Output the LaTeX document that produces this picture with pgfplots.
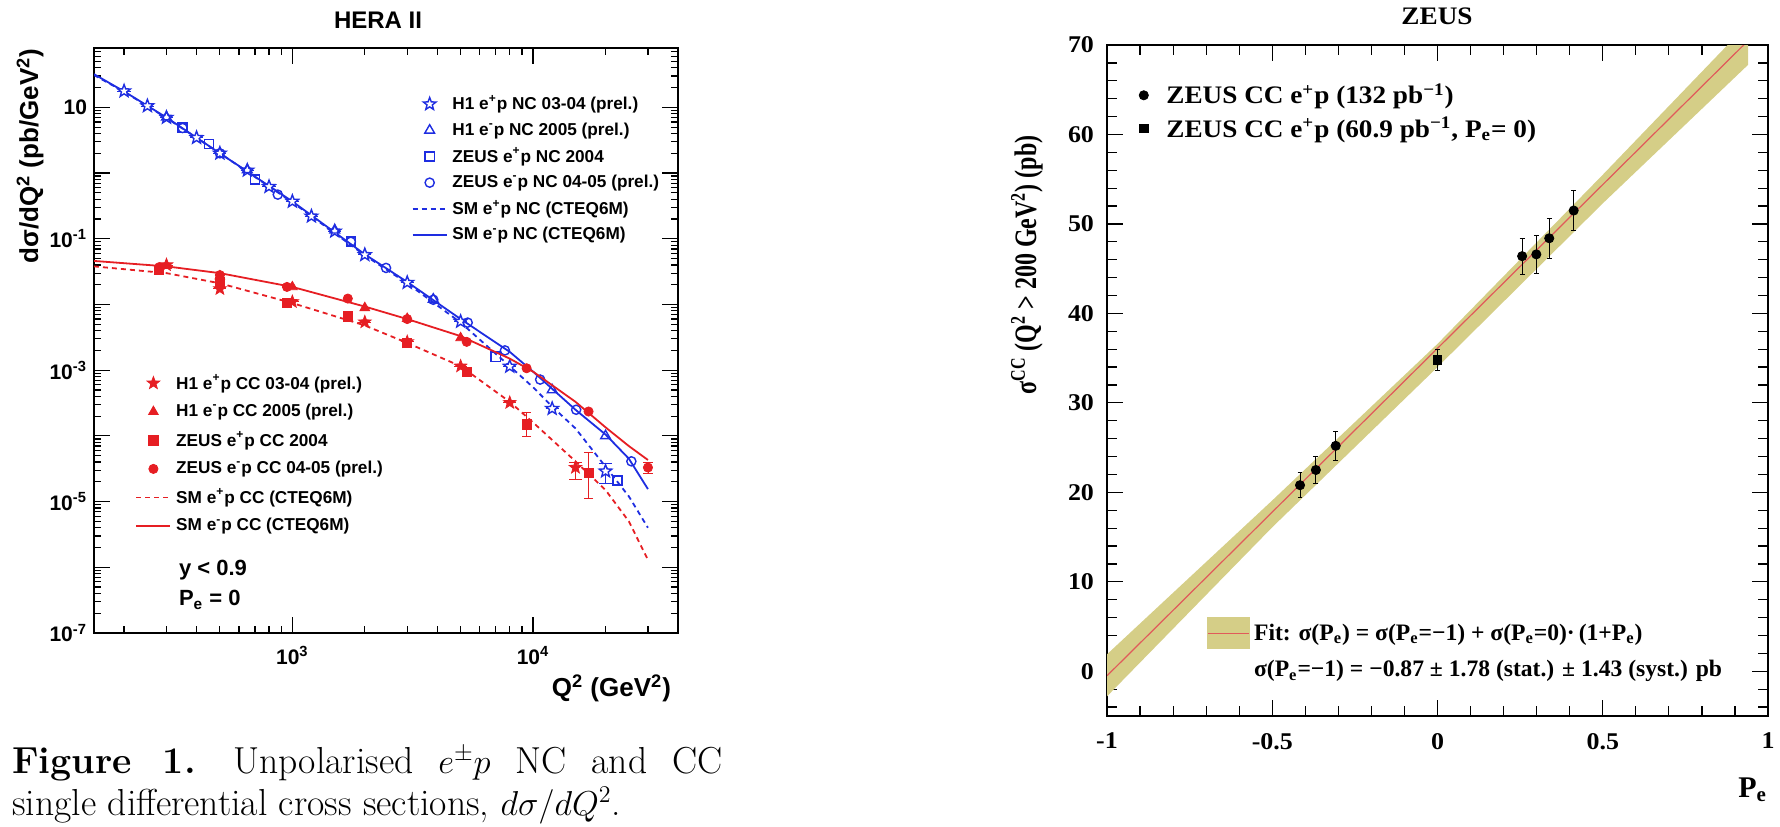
\documentclass[border=0pt]{standalone}
\usepackage{pgfplots}
\pgfplotsset{compat=1.18}
\usepackage{graphicx}
\usepackage{fontspec}
\newfontfamily\hs{Liberation Sans}
\newfontfamily\zt{Liberation Serif}[FakeStretch=1.08]
\newfontfamily\ztn{Liberation Serif}
\definecolor{hblue}{RGB}{30,45,225}
\definecolor{hred}{RGB}{230,30,35}
\definecolor{band}{RGB}{213,206,135}
\definecolor{fitred}{RGB}{225,90,90}

\pgfdeclareplotmark{fstar}{%
 \pgfpathmoveto{\pgfpointpolar{90}{\pgfplotmarksize}}%
 \pgfpathlineto{\pgfpointpolar{126}{0.42\pgfplotmarksize}}%
 \pgfpathlineto{\pgfpointpolar{162}{\pgfplotmarksize}}%
 \pgfpathlineto{\pgfpointpolar{198}{0.42\pgfplotmarksize}}%
 \pgfpathlineto{\pgfpointpolar{234}{\pgfplotmarksize}}%
 \pgfpathlineto{\pgfpointpolar{270}{0.42\pgfplotmarksize}}%
 \pgfpathlineto{\pgfpointpolar{306}{\pgfplotmarksize}}%
 \pgfpathlineto{\pgfpointpolar{342}{0.42\pgfplotmarksize}}%
 \pgfpathlineto{\pgfpointpolar{18}{\pgfplotmarksize}}%
 \pgfpathlineto{\pgfpointpolar{54}{0.42\pgfplotmarksize}}%
 \pgfpathclose
 \pgfusepathqfillstroke}

\begin{document}
\begin{tikzpicture}
\useasboundingbox (0,0) rectangle (890pt,-413pt);

% ---------------- LEFT: NC ----------------
\begin{axis}[at={(47pt,-316.5pt)}, anchor=south west,
 width=292pt, height=292.5pt, scale only axis,
 xmode=log, ymode=log, xmin=150, xmax=40000, ymin=1e-7, ymax=80,
 xtick={100,1000,10000,100000},
 xticklabels={,10\textsuperscript{3},10\textsuperscript{4},},
 minor xtick={200,300,400,500,600,700,800,900,2000,3000,4000,5000,6000,7000,8000,9000,20000,30000,40000},
 ytick={1e-7,1e-6,1e-5,1e-4,1e-3,1e-2,1e-1,1,10,100},
 yticklabels={10\textsuperscript{-7},,10\textsuperscript{-5},,10\textsuperscript{-3},,10\textsuperscript{-1},,10,},
 minor ytick={2e-7,3e-7,4e-7,5e-7,6e-7,7e-7,8e-7,9e-7,
  2e-6,3e-6,4e-6,5e-6,6e-6,7e-6,8e-6,9e-6,
  2e-5,3e-5,4e-5,5e-5,6e-5,7e-5,8e-5,9e-5,
  2e-4,3e-4,4e-4,5e-4,6e-4,7e-4,8e-4,9e-4,
  2e-3,3e-3,4e-3,5e-3,6e-3,7e-3,8e-3,9e-3,
  2e-2,3e-2,4e-2,5e-2,6e-2,7e-2,8e-2,9e-2,
  0.2,0.3,0.4,0.5,0.6,0.7,0.8,0.9,2,3,4,5,6,7,8,9,20,30,40,50,60,70},
 ticklabel style={font=\hs\bfseries\fontsize{10.5}{12}\selectfont},
 xticklabel style={yshift=-3pt},
 tick align=inside, major tick length=8pt, minor tick length=3.5pt,
 axis line style={line width=0.8pt}, every tick/.style={black, line width=0.6pt},
 legend style={at={(0.533,0.935)}, anchor=north west, draw=none, fill=none,
  font=\hs\bfseries\fontsize{8.6}{10}\selectfont, row sep=0pt, nodes={inner sep=2.4pt}},
 legend cell align=left,
]
% SM curves
\addplot[hblue, line width=0.9pt, dash pattern=on 2.5pt off 2pt, forget plot] coordinates {
 (150,31) (200,17.3) (300,6.9) (500,2.0) (1000,0.36) (2000,0.056) (3000,0.021)
 (5000,0.0053) (8000,0.00115) (10000,0.00055) (12000,0.00028) (15000,0.00013)
 (20000,3.4e-5) (25000,1.2e-5) (30000,4e-6)};
\addplot[hblue, line width=0.9pt, forget plot] coordinates {
 (150,32) (200,17.5) (300,7.0) (500,2.0) (1000,0.37) (2000,0.058) (3000,0.022)
 (5000,0.0060) (8000,0.0019) (10000,0.00095) (15000,0.00025) (20000,0.000105)
 (25000,4.5e-5) (30000,1.55e-5)};
% data
\addplot[only marks, mark=fstar, mark size=3.3pt, mark options={fill=white, draw=hblue, line width=0.7pt},
 hblue, error bars/.cd, y dir=both, y explicit] table[x=x, y=y, y error plus=ep, y error minus=em] {
x y ep em
200 17.7 0 0
250 10.5 0 0
300 7.0 0 0
400 3.45 0 0
500 2.0 0 0
650 1.1 0 0
800 0.62 0 0
1000 0.37 0 0
1200 0.22 0 0
1500 0.13 0 0
2000 0.057 0 0
3000 0.0215 0 0
5000 0.0055 0 0
8000 0.00114 0 0
12000 0.00026 0 0
20000 0.000029 0.000009 0.00001
};
\addlegendentry{H1 e\textsuperscript{+}p NC 03-04 (prel.)}
\addplot[only marks, mark=triangle, mark size=2.8pt, mark options={draw=hblue, line width=0.7pt}, hblue] coordinates {
 (300,7.1) (650,1.12) (1500,0.135) (3850,0.0120) (12000,0.00050) (20000,0.00010)};
\addlegendentry{H1 e\textsuperscript{-}p NC 2005 (prel.)}
\addplot[only marks, mark=square, mark size=2.3pt, mark options={draw=hblue, line width=0.7pt}, hblue] coordinates {
 (350,4.9) (450,2.75) (700,0.80) (1750,0.091) (7000,0.0016) (22400,0.000021)};
\addlegendentry{ZEUS e\textsuperscript{+}p NC 2004}
\addplot[only marks, mark=o, mark size=2.3pt, mark options={draw=hblue, line width=0.7pt}, hblue] coordinates {
 (350,4.85) (500,2.0) (870,0.47) (1750,0.090) (2450,0.036) (3850,0.0118) (5350,0.0053)
 (7640,0.0020) (10700,0.00072) (15100,0.00025) (25600,0.000041)};
\addlegendentry{ZEUS e\textsuperscript{-}p NC 04-05 (prel.)}
\addlegendimage{hblue, line width=0.9pt, dash pattern=on 2.5pt off 2pt}
\addlegendentry{SM e\textsuperscript{+}p NC (CTEQ6M)}
\addlegendimage{hblue, line width=0.9pt}
\addlegendentry{SM e\textsuperscript{-}p NC (CTEQ6M)}
\end{axis}

% ---------------- LEFT: CC (overlay) ----------------
\begin{axis}[at={(47pt,-316.5pt)}, anchor=south west,
 width=292pt, height=292.5pt, scale only axis,
 xmode=log, ymode=log, xmin=150, xmax=40000, ymin=1e-7, ymax=80,
 hide axis,
 legend style={at={(0.06,0.458)}, anchor=north west, draw=none, fill=none,
  font=\hs\bfseries\fontsize{8.6}{10}\selectfont, row sep=1.2pt, nodes={inner sep=2.4pt}},
 legend cell align=left,
]
\addplot[hred, line width=0.9pt, dash pattern=on 2.5pt off 2pt, forget plot] coordinates {
 (150,0.038) (300,0.030) (500,0.021) (1000,0.0105) (2000,0.0048) (3000,0.0026)
 (5000,0.00115) (8000,0.00033) (10000,0.00016) (15000,4.1e-5) (20000,1.5e-5)
 (25000,5e-6) (30000,1.3e-6)};
\addplot[hred, line width=0.9pt, forget plot] coordinates {
 (150,0.046) (300,0.038) (500,0.030) (1000,0.0185) (2000,0.0093) (3000,0.0060)
 (5000,0.0033) (8000,0.0015) (10000,0.00095) (15000,0.00033) (20000,0.000135)
 (25000,7e-5) (30000,4.3e-5)};
\addplot[only marks, mark=fstar, mark size=3.3pt, mark options={fill=hred, draw=hred}, hred,
 error bars/.cd, y dir=both, y explicit] table[x=x, y=y, y error plus=ep, y error minus=em] {
x y ep em
300 0.040 0 0
500 0.0173 0 0
1000 0.0110 0 0
2000 0.0054 0 0
3000 0.0027 0 0
5000 0.00115 0 0
8000 0.00032 0 0
15000 0.000033 0.000006 0.000011
};
\addlegendentry{H1 e\textsuperscript{+}p CC 03-04 (prel.)}
\addplot[only marks, mark=triangle*, mark size=2.8pt, mark options={fill=hred, draw=hred}, hred] coordinates {
 (300,0.039) (500,0.027) (1000,0.0185) (2000,0.0089) (3000,0.0061) (5000,0.0031)};
\addlegendentry{H1 e\textsuperscript{-}p CC 2005 (prel.)}
\addplot[only marks, mark=square*, mark size=2.3pt, mark options={fill=hred, draw=hred}, hred,
 error bars/.cd, y dir=both, y explicit] table[x=x, y=y, y error plus=ep, y error minus=em] {
x y ep em
280 0.034 0 0
500 0.022 0 0
950 0.0105 0 0
1700 0.0066 0 0
3000 0.0026 0 0
5300 0.00093 0 0
9400 0.00015 0.00008 0.000052
17000 0.000027 0.00003 0.000016
};
\addlegendentry{ZEUS e\textsuperscript{+}p CC 2004}
\addplot[only marks, mark=*, mark size=2.3pt, mark options={fill=hred, draw=hred}, hred,
 error bars/.cd, y dir=both, y explicit] table[x=x, y=y, y error plus=ep, y error minus=em] {
x y ep em
280 0.037 0 0
500 0.028 0 0
950 0.0185 0 0
1700 0.0123 0 0
3000 0.0060 0 0
5300 0.0027 0 0
9400 0.00107 0 0
17000 0.000235 0 0
30000 0.000033 0.000006 0.000006
};
\addlegendentry{ZEUS e\textsuperscript{-}p CC 04-05 (prel.)}
\addlegendimage{hred, line width=0.9pt, dash pattern=on 2.5pt off 2pt}
\addlegendentry{SM e\textsuperscript{+}p CC (CTEQ6M)}
\addlegendimage{hred, line width=0.9pt}
\addlegendentry{SM e\textsuperscript{-}p CC (CTEQ6M)}
\end{axis}

% left texts
\node[font=\hs\bfseries\fontsize{12}{14}\selectfont] at (189pt,-10pt) {HERA II};
\node[rotate=90, font=\hs\bfseries\fontsize{13}{15}\selectfont] at (15pt,-78pt) {dσ/dQ\textsuperscript{2} (pb/GeV\textsuperscript{2})};
\node[anchor=east, font=\hs\bfseries\fontsize{13}{15}\selectfont] at (339pt,-344pt) {Q\textsuperscript{2} (GeV\textsuperscript{2})};
\node[anchor=west, font=\hs\bfseries\fontsize{11}{13}\selectfont] at (86pt,-285pt) {y < 0.9};
\node[anchor=west, font=\hs\bfseries\fontsize{11}{13}\selectfont] at (86pt,-300pt) {P\textsubscript{e} = 0};
% caption
\node[anchor=base west, inner sep=0pt, font=\fontsize{18.8}{20}\selectfont] at (6pt,-386.5pt)
 {\makebox[355pt][s]{\textbf{Figure 1.}\quad Unpolarised $e^{\pm}p$ NC and CC}};
\node[anchor=base west, inner sep=0pt, font=\fontsize{18.8}{20}\selectfont] at (6pt,-407.5pt)
 {single differential cross sections, $d\sigma/dQ^2$.};

% ---------------- RIGHT ----------------
\begin{axis}[at={(553.5pt,-358pt)}, anchor=south west,
 width=330.5pt, height=335.5pt, scale only axis,
 xmin=-1, xmax=1, ymin=-5, ymax=70,
 xtick={-1,-0.5,0,0.5,1}, xticklabels={-1,-0.5,0,0.5,1}, minor x tick num=4,
 ytick={0,10,20,30,40,50,60,70}, yticklabels={0,10,20,30,40,50,60,70},
 minor ytick={-4,-2,2,4,6,8,12,14,16,18,22,24,26,28,32,34,36,38,42,44,46,48,52,54,56,58,62,64,66,68},
 ticklabel style={font=\zt\bfseries\fontsize{12}{14}\selectfont},
 yticklabel style={xshift=-3pt}, xticklabel style={yshift=-5pt},
 tick align=inside, major tick length=8pt, minor tick length=4.8pt,
 axis line style={line width=0.8pt}, every tick/.style={black, line width=0.6pt},
 legend style={at={(0.039,0.955)}, anchor=north west, draw=none, fill=none,
  font=\zt\bfseries\fontsize{12.6}{14}\selectfont, row sep=1pt, column sep=7pt, nodes={inner sep=2pt}},
 legend cell align=left,
]
\addplot[fill=band, draw=none, forget plot] coordinates {
 (-1,1.9) (-0.5,19.1) (0,36.6) (0.5,55.5) (0.94,72.4)
 (0.94,67.8) (0.5,52.3) (0,34.0) (-0.5,16.1) (-1,-2.8)} -- cycle;
\addplot[fitred, line width=0.6pt, forget plot] coordinates {(-1,-0.5) (1,72.7)};
\addplot[only marks, black, mark=*, mark size=2.3pt, mark options={fill=black},
 error bars/.cd, y dir=both, y explicit, error mark options={rotate=90, mark size=1.2pt}]
 table[x=x, y=y, y error=e] {
x y e
-0.416 20.8 1.4
-0.368 22.5 1.5
-0.308 25.2 1.6
0.256 46.4 2.0
0.299 46.6 2.1
0.338 48.4 2.2
0.412 51.5 2.2
};
\addlegendentry{ZEUS CC e\textsuperscript{+}p (132 pb\textsuperscript{−1})}
\addplot[only marks, black, mark=square*, mark size=2.1pt, mark options={fill=black},
 error bars/.cd, y dir=both, y explicit, error mark options={rotate=90, mark size=1.2pt}]
 table[x=x, y=y, y error=e] {
x y e
0 34.8 1.2
};
\addlegendentry{ZEUS CC e\textsuperscript{+}p (60.9 pb\textsuperscript{−1}, P\textsubscript{e}= 0)}
\end{axis}

\begin{axis}[at={(553.5pt,-358pt)}, anchor=south west,
 width=330.5pt, height=335.5pt, scale only axis,
 xmin=-1, xmax=1, ymin=-5, ymax=70, hide axis,
 legend style={at={(0.142,0.1535)}, anchor=north west, draw=none, fill=none,
  font=\ztn\bfseries\fontsize{11.8}{13}\selectfont, row sep=3.5pt, nodes={inner sep=2pt}},
 legend cell align=left,
]
\addlegendimage{legend image code/.code={\fill[band] (0pt,-7.75pt) rectangle (20.8pt,7.75pt); \draw[fitred, line width=0.6pt] (0pt,0pt) -- (20.8pt,0pt);}}
\addlegendentry{Fit: σ(P\textsubscript{e}) = σ(P\textsubscript{e}=−1) + σ(P\textsubscript{e}=0)·\,(1+P\textsubscript{e})}
\addlegendimage{empty legend}
\addlegendentry{σ(P\textsubscript{e}=−1) = −0.87 ± 1.78 (stat.) ± 1.43 (syst.) pb}
\end{axis}

\node[font=\zt\bfseries\fontsize{12.6}{14}\selectfont] at (718.5pt,-8pt) {ZEUS};
\node[rotate=90, font=\ztn\bfseries\fontsize{12}{15}\selectfont] at (513.5pt,-132.5pt) {\scalebox{1}[1.3]{σ\textsuperscript{CC} (Q\textsuperscript{2} > 200 GeV\textsuperscript{2}) (pb)}};
\node[anchor=east, font=\ztn\bfseries\fontsize{15}{17}\selectfont] at (887pt,-395pt) {P\textsubscript{e}};
\end{tikzpicture}
\end{document}
